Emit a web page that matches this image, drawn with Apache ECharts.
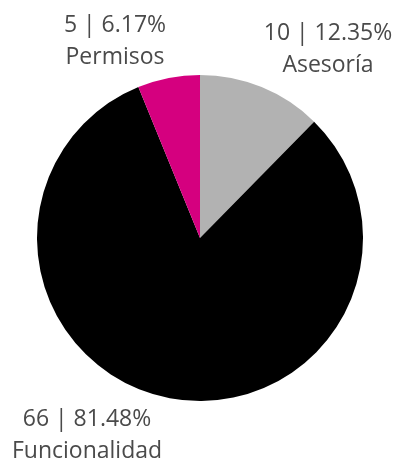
<!DOCTYPE html>
<html>
<head>
<meta charset="utf-8">
<script src="https://cdn.jsdelivr.net/npm/echarts@6/dist/echarts.min.js"></script>
<style>
  html, body { margin: 0; padding: 0; background: #fff; }
  #pie_chart { width: 400px; height: 461px; }
</style>
</head>
<body>
<div id="pie_chart"></div>
<script>
var categories = ['Asesoría', 'Funcionalidad', 'Permisos'];
var counts = [10, 66, 5];
var colors = ['#b2b2b2', '#000000', '#d5007f'];
// where each label block sits (centre of the two lines)
var labelPos = [[328, 49], [87, 435], [115, 41]];

var pieData = categories.map(function (name, i) {
    return { name: name, value: counts[i], itemStyle: { color: colors[i] } };
});

var pie_chart = echarts.init(document.getElementById('pie_chart'));
var pie_option = {
    animation: false,
    series: [
        {
            type: 'pie',
            center: [200, 238],
            radius: 163,
            startAngle: 90,
            clockwise: true,
            data: pieData,
            itemStyle: { borderWidth: 0 },
            label: {
                show: true,
                position: 'outside',
                formatter: '{c} | {d}%\n{b}',
                fontFamily: 'Open Sans',
                fontSize: 23,
                lineHeight: 32,
                color: '#4a4a4a',
                align: 'center',
                overflow: 'none',
                width: 200
            },
            labelLine: { show: false },
            labelLayout: function (params) {
                var p = labelPos[params.dataIndex];
                return { x: p[0], y: p[1], align: 'center', verticalAlign: 'middle' };
            },
            emphasis: { disabled: true }
        }
    ]
};
pie_chart.setOption(pie_option);
</script>
</body>
</html>
